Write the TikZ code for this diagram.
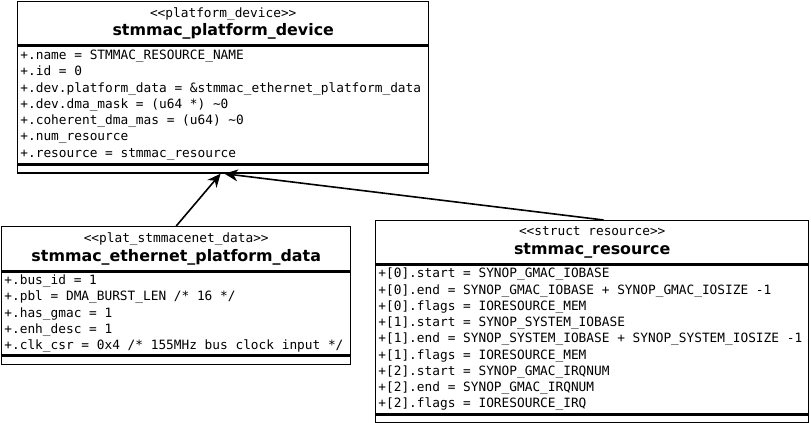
\documentclass[tikz,border=0pt]{standalone}
\usepackage{fontspec}
\setmainfont{DejaVu Sans}
\setmonofont{DejaVu Sans Mono}[Ligatures=NoCommon]
\usetikzlibrary{positioning, arrows.meta}

\newcommand{\stereo}[1]{{\ttfamily\fontsize{9.6}{11}\selectfont\spaceskip=5.78pt\relax <{}<#1>{}>}}
\newcommand{\classname}[1]{{\fontsize{11.9}{14.5}\selectfont\bfseries #1}}

\begin{document}
\begin{tikzpicture}[
    x=0.75pt, y=-0.75pt,
    class_head/.style={rectangle, align=center, draw=black, line width=1.1pt, inner sep=0pt, minimum height=32.5pt},
    class_attr/.style={rectangle, align=left, draw=black, line width=1.1pt, inner xsep=2pt, inner ysep=1pt,
        font=\ttfamily\fontsize{9.6}{12.2}\selectfont, execute at begin node={\spaceskip=5.78pt\relax\xspaceskip=5.78pt\relax}},
    class_foot/.style={rectangle, draw=black, line width=1.1pt, inner sep=0pt, minimum height=6pt},
    link/.style={line width=1.2pt, -{Stealth[length=10pt, width=9pt]}},
]
    \useasboundingbox (0,0) rectangle (811,423);

    \node(pdev_head)[class_head, minimum width=308.25pt, anchor=north west] at (17, 1)
        {\stereo{platform\_device}\\[2pt] \classname{stmmac\_platform\_device}};
    \node(pdev_attr)[class_attr, text width=304.25pt, minimum height=87.75pt, below=0pt of pdev_head]
        {+.name = STMMAC\_RESOURCE\_NAME\\
         +.id = 0\\
         +.dev.platform\_data = \&stmmac\_ethernet\_platform\_data\\
         +.dev.dma\_mask = (u64 *) \textasciitilde0\\
         +.coherent\_dma\_mas = (u64) \textasciitilde0\\
         +.num\_resource\\
         +.resource = stmmac\_resource};
    \node(pdev_foot)[class_foot, minimum width=308.25pt, below=0pt of pdev_attr]{};

    \node(eth_head)[class_head, minimum width=261.75pt, minimum height=33pt, anchor=north west] at (1, 226)
        {\stereo{plat\_stmmacenet\_data}\\[2pt] \classname{stmmac\_ethernet\_platform\_data}};
    \node(eth_attr)[class_attr, text width=257.75pt, minimum height=62.25pt, below=0pt of eth_head]
        {+.bus\_id = 1\\
         +.pbl = DMA\_BURST\_LEN /* 16 */\\
         +.has\_gmac = 1\\
         +.enh\_desc = 1\\
         +.clk\_csr = 0x4 /* 155MHz bus clock input */};
    \node(eth_foot)[class_foot, minimum width=261.75pt, below=0pt of eth_attr]{};

    \node(res_head)[class_head, minimum width=324.75pt, anchor=north west] at (375, 220)
        {\stereo{struct resource}\\[2pt] \classname{stmmac\_resource}};
    \node(res_attr)[class_attr, text width=320.75pt, minimum height=111pt, below=0pt of res_head]
        {+[0].start = SYNOP\_GMAC\_IOBASE\\
         +[0].end = SYNOP\_GMAC\_IOBASE + SYNOP\_GMAC\_IOSIZE -1\\
         +[0].flags = IORESOURCE\_MEM\\
         +[1].start = SYNOP\_SYSTEM\_IOBASE\\
         +[1].end = SYNOP\_SYSTEM\_IOBASE + SYNOP\_SYSTEM\_IOSIZE -1\\
         +[1].flags = IORESOURCE\_MEM\\
         +[2].start = SYNOP\_GMAC\_IRQNUM\\
         +[2].end = SYNOP\_GMAC\_IRQNUM\\
         +[2].flags = IORESOURCE\_IRQ};
    \node(res_foot)[class_foot, minimum width=324.75pt, minimum height=6pt, below=0pt of res_attr]{};

    \draw[link] (eth_head.north) -- ([xshift=-2pt]pdev_foot.south);
    \draw[link] ([xshift=8.5pt]res_head.north) -- ([xshift=1pt]pdev_foot.south);
\end{tikzpicture}
\end{document}
